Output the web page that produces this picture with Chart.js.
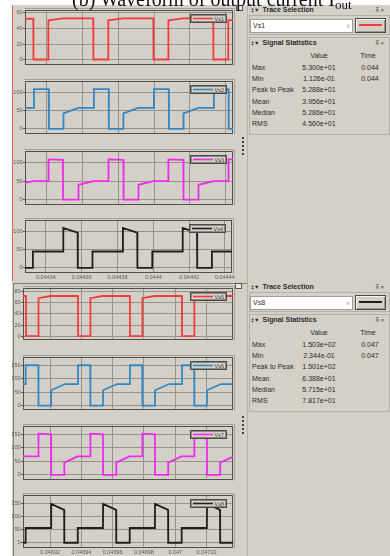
<!DOCTYPE html>
<html>
<head>
<meta charset="utf-8">
<script src="https://cdn.jsdelivr.net/npm/chart.js@4.4.1/dist/chart.umd.min.js"></script>
<style>
  html, body { margin: 0; padding: 0; background: #fff; }
  body { width: 390px; height: 556px; position: relative; overflow: hidden;
         font-family: "Liberation Sans", Arial, sans-serif; color: #2b2b2b; }
  .abs { position: absolute; }
  #bg { left: 12px; top: 5px; width: 378px; height: 551px; background: #d4d0c8; }
  #redEdge { left: 12px; top: 5px; width: 1px; height: 276px; background: #e0605c; }
  #paneBot { left: 13px; top: 283px; width: 234px; height: 273px;
             border-top: 1px solid #7f7d78; border-left: 1px solid #7f7d78; }
  #split { left: 247px; top: 5px; width: 1px; height: 551px; background: #b4b1aa; }
  .mini { width: 5px; height: 4px; border: 1px solid #5a5a5a; background: #ebe9e4; }
  .dot { width: 1.5px; height: 1.5px; background: #444; left: 242px; }
  canvas { position: absolute; left: 12px; }
  #caption { left: 72px; top: -11px; font: 20px/20px "Liberation Serif", "Times New Roman", serif;
             color: #111; white-space: nowrap; z-index: 5; }
  #caption span { font-size: 13px; position: relative; top: 3px; }
  .hdr { position: absolute; left: 251px; width: 136px; height: 10px; line-height: 10px;
         font-weight: bold; font-size: 7px; }
  .hdr .ic { font-size: 5.5px; margin-right: 3px; }
  .hdr .pin { position: absolute; right: 3px; top: 0; font-size: 6px; font-weight: normal; color: #444; }
  .box { left: 249px; width: 139px; border: 1px solid #b3b0a9; }
  .combo { left: 250px; width: 99px; height: 12px; background: #fff; border: 1px solid #a19e98;
           font-size: 7px; line-height: 12px; padding-left: 2px; }
  .combo .arr { position: absolute; right: 2px; top: 0; color: #999; font-size: 6px; }
  .btn { left: 355px; width: 29px; height: 13px; border: 1px solid #4a4a4a;
         box-shadow: inset 1px 1px #f4f3f0, inset -1px -1px #9a978f; }
  .swatch { left: 359px; width: 23px; height: 1.6px; }
  .cell { position: absolute; height: 10px; line-height: 10px; font-size: 7px; white-space: nowrap; }
  .c { text-align: center; }
</style>
</head>
<body>
<div id="bg" class="abs"></div>
<div id="redEdge" class="abs"></div>
<div id="paneBot" class="abs"></div>
<div id="split" class="abs"></div>
<div class="abs mini" style="left:236px;top:5px"></div>
<div class="abs mini" style="left:235px;top:283px"></div>
<div id="caption" class="abs">(b) Waveform of output current I<span>out</span></div>
<div id="side"></div>

<script>
"use strict";

// time axis is kept in microseconds: 44340 = 0.04434 s

// tick labels
var topTickValues = [44340, 44360, 44380, 44400, 44420, 44440];
var topTickLabels = ['0.04434', '0.04436', '0.04438', '0.0444', '0.04442', '0.04444'];
var botTickValues = [46920, 46940, 46960, 46980, 47000, 47020];
var botTickLabels = ['0.04692', '0.04694', '0.04696', '0.04698', '0.047', '0.04702'];
var yTicks60  = [0, 20, 40, 60];
var yTicks80  = [0, 20, 40, 60, 80];
var yTicks100 = [0, 50, 100];
var yTicks150 = [0, 50, 100, 150];

// switch voltages, first screen
var vs1Time  = [44328.3, 44332.9, 44333.0, 44341.2, 44341.3, 44349.5, 44366.2, 44366.3, 44374.5, 44374.6, 44382.8,
                44399.6, 44399.7, 44407.9, 44408.0, 44416.2, 44432.9, 44433.0, 44441.2, 44441.3, 44443.9];
var vs1Value = [52.5, 52.5, 0.1, 0.1, 50.5, 53, 53, 0.1, 0.1, 50.5, 53,
                53, 0.1, 0.1, 50.5, 53, 53, 0.1, 0.1, 50.5, 51];

var vs2Time  = [44328.3, 44333.2, 44333.3, 44341.5, 44341.6, 44349.6, 44349.7, 44357.9, 44366.5, 44366.6, 44374.8,
                44374.9, 44382.9, 44383.0, 44391.2, 44399.9, 44400.0, 44408.2, 44408.3, 44416.3, 44416.4, 44424.6,
                44433.2, 44433.3, 44441.4, 44441.5, 44443.9];
var vs2Value = [58, 58, 110, 110, 0, 0, 43, 58, 58, 110, 110,
                0, 0, 43, 58, 58, 110, 110, 0, 0, 43, 58,
                58, 110, 110, 0, 0];

var vs3Time  = [44328.3, 44332.9, 44341.3, 44341.4, 44349.3, 44349.4, 44357.9, 44358.0, 44366.3, 44374.6, 44374.7,
                44383.0, 44383.1, 44391.3, 44391.4, 44399.6, 44407.9, 44408.0, 44416.3, 44416.4, 44424.6, 44424.7,
                44433.0, 44441.3, 44441.4, 44443.9];
var vs3Value = [45, 50, 50, 109, 108, 0, 0, 40, 50, 50, 109,
                108, 0, 0, 40, 50, 50, 109, 108, 0, 0, 40,
                50, 50, 109, 109];

var vs4Time  = [44328.3, 44332.6, 44332.7, 44349.6, 44349.7, 44357.7, 44357.8, 44365.9, 44366.0, 44382.9, 44383.0,
                44391.0, 44391.1, 44399.3, 44399.4, 44416.3, 44416.4, 44424.4, 44424.5, 44432.6, 44432.7, 44443.9];
var vs4Value = [0, 0, 45, 45, 110, 97, 0, 0, 45, 45, 110,
                97, 0, 0, 45, 45, 110, 97, 0, 0, 45, 45];

// switch voltages, second screen
var vs5Time  = [46902.7, 46904.6, 46904.7, 46912.5, 46912.6, 46920.3, 46937.8, 46937.9, 46945.7, 46945.8, 46953.5,
                46971.0, 46971.1, 46978.9, 46979.0, 46986.7, 47004.2, 47004.3, 47012.1, 47012.2, 47019.9, 47036.9];
var vs5Value = [72, 72, 0.2, 0.2, 68, 72, 72, 0.2, 0.2, 68, 72,
                72, 0.2, 0.2, 68, 72, 72, 0.2, 0.2, 68, 72, 72];

var vs6Time  = [46902.7, 46904.3, 46904.4, 46912.5, 46912.6, 46920.6, 46920.7, 46929.6, 46937.8, 46937.9, 46945.7,
                46945.8, 46953.8, 46953.9, 46962.8, 46971.0, 46971.1, 46978.9, 46979.0, 46987.0, 46987.1, 46996.0,
                47004.2, 47004.3, 47012.1, 47012.2, 47020.2, 47020.3, 47029.2, 47036.9];
var vs6Value = [80, 80, 150, 150, 0, 0, 57, 80, 80, 150, 150,
                0, 0, 57, 80, 80, 150, 150, 0, 0, 57, 80,
                80, 150, 150, 0, 0, 57, 80, 80];

var vs7Time  = [46902.7, 46912.5, 46912.6, 46920.6, 46920.7, 46929.0, 46929.1, 46937.5, 46945.7, 46945.8, 46953.8,
                46953.9, 46962.2, 46962.3, 46970.7, 46978.9, 46979.0, 46987.0, 46987.1, 46995.4, 46995.5, 47003.9,
                47012.1, 47012.2, 47020.2, 47020.3, 47028.6, 47028.7, 47036.9];
var vs7Value = [68, 68, 152, 150, 0, 0, 45, 68, 68, 152, 150,
                0, 0, 45, 68, 68, 152, 150, 0, 0, 45, 68,
                68, 152, 150, 0, 0, 45, 67];

var vs8Time  = [46902.7, 46904.3, 46904.4, 46920.6, 46920.7, 46929.0, 46929.1, 46937.6, 46937.7, 46953.8, 46953.9,
                46962.2, 46962.3, 46970.8, 46970.9, 46987.0, 46987.1, 46995.4, 46995.5, 47004.0, 47004.1, 47020.2,
                47020.3, 47028.6, 47028.7, 47036.9];
var vs8Value = [0, 0, 57, 57, 150, 127, 0, 0, 57, 57, 150,
                127, 0, 0, 57, 57, 150, 127, 0, 0, 57, 57,
                150, 127, 0, 0];

// signal statistics panels
var statNames   = ['Max', 'Min', 'Peak to Peak', 'Mean', 'Median', 'RMS'];
var statsVs1    = ['5.300e+01', '1.126e-01', '5.288e+01', '3.956e+01', '5.286e+01', '4.560e+01'];
var statTimeVs1 = ['0.044', '0.044', '', '', '', ''];
var statsVs8    = ['1.503e+02', '2.344e-01', '1.501e+02', '6.388e+01', '5.715e+01', '7.817e+01'];
var statTimeVs8 = ['0.047', '0.047', '', '', '', ''];


var gridColor = '#96938d';
var tickColor = '#5a5a5a';
var tickFont  = { size: 5.5, family: '"Liberation Sans", Arial, sans-serif' };

// one entry per scope window (frame = plot area in page pixels)
var plots = [
  { name: 'Vs1', t: vs1Time, v: vs1Value, color: '#f23c3c', top: 9,   bottom: 68,  left: 25,
    x: [44328.3, 44443.9], y: [-7.2, 64.0],   yTicks: yTicks60,  xTicks: topTickValues, xLabels: null },
  { name: 'Vs2', t: vs2Time, v: vs2Value, color: '#2f88c8', top: 80,  bottom: 137, left: 25,
    x: [44328.3, 44443.9], y: [-14.8, 132.9], yTicks: yTicks100, xTicks: topTickValues, xLabels: null },
  { name: 'Vs3', t: vs3Time, v: vs3Value, color: '#ee2aee', top: 150, bottom: 208, left: 25,
    x: [44328.3, 44443.9], y: [-15.3, 132.3], yTicks: yTicks100, xTicks: topTickValues, xLabels: null },
  { name: 'Vs4', t: vs4Time, v: vs4Value, color: '#1e1e1e', top: 219, bottom: 273, left: 25,
    x: [44328.3, 44443.9], y: [-14.4, 132.7], yTicks: yTicks100, xTicks: topTickValues, xLabels: topTickLabels },
  { name: 'Vs5', t: vs5Time, v: vs5Value, color: '#f23c3c', top: 287, bottom: 343, left: 23,
    x: [46902.7, 47036.9], y: [-7.2, 86.7],   yTicks: yTicks80,  xTicks: botTickValues, xLabels: null },
  { name: 'Vs6', t: vs6Time, v: vs6Value, color: '#2f88c8', top: 356, bottom: 413, left: 23,
    x: [46902.7, 47036.9], y: [-17.4, 181.4], yTicks: yTicks150, xTicks: botTickValues, xLabels: null },
  { name: 'Vs7', t: vs7Time, v: vs7Value, color: '#ee2aee', top: 425, bottom: 483, left: 23,
    x: [46902.7, 47036.9], y: [-19.7, 181.2], yTicks: yTicks150, xTicks: botTickValues, xLabels: null },
  { name: 'Vs8', t: vs8Time, v: vs8Value, color: '#1e1e1e', top: 494, bottom: 548, left: 23,
    x: [46902.7, 47036.9], y: [-20.2, 185.4], yTicks: yTicks150, xTicks: botTickValues, xLabels: botTickLabels }
];


// frame, and the little legend box in the upper right corner
var scopeFrame = {
  id: 'scopeFrame',
  beforeDatasetsDraw: function(chart) {
    var a = chart.chartArea, ctx = chart.ctx;
    var l = Math.round(a.left), t = Math.round(a.top), r = Math.round(a.right), b = Math.round(a.bottom);
    ctx.save();
    ctx.lineWidth = 1;
    ctx.strokeStyle = '#a3a09a';
    ctx.beginPath();
    ctx.moveTo(l - 0.5, t - 1.5); ctx.lineTo(r + 1.5, t - 1.5); ctx.lineTo(r + 1.5, b + 0.5);
    ctx.stroke();
    ctx.strokeStyle = '#505050';
    ctx.strokeRect(l + 0.5, t + 0.5, r - l - 1, b - t - 1);
    ctx.restore();
  },
  afterDatasetsDraw: function(chart) {
    var a = chart.chartArea, ctx = chart.ctx, ds = chart.data.datasets[0];
    var x = Math.round(a.right) - 43, y = Math.round(a.top) + 4, w = 37, h = 9;
    ctx.save();
    ctx.fillStyle = '#d4d0c8';
    ctx.fillRect(x, y, w, h);
    ctx.lineWidth = 1;
    ctx.strokeStyle = '#4a4a4a';
    ctx.strokeRect(x + 0.5, y + 0.5, w - 1, h - 1);
    ctx.strokeStyle = '#8d8a84';
    ctx.strokeRect(x + 1.5, y + 1.5, w - 3, h - 3);
    ctx.strokeStyle = ds.borderColor;
    ctx.lineWidth = 1.6;
    ctx.beginPath();
    ctx.moveTo(x + 3, y + h / 2); ctx.lineTo(x + 23, y + h / 2);
    ctx.stroke();
    ctx.fillStyle = '#444';
    ctx.font = '5.5px "Liberation Sans", Arial, sans-serif';
    ctx.textAlign = 'right';
    ctx.textBaseline = 'middle';
    ctx.fillText(ds.label, x + w - 3, y + h / 2 + 0.5);
    ctx.restore();
  }
};


function makePlot(p) {
  var labelH = p.xLabels ? 9 : 0;
  var cv = document.createElement('canvas');
  cv.width = 224;
  cv.height = (p.bottom - p.top) + 3 + (labelH || 1);
  cv.style.top = (p.top - 3) + 'px';
  document.body.appendChild(cv);

  var pts = p.t.map(function(t, i) { return { x: t, y: p.v[i] }; });

  return new Chart(cv.getContext('2d'), {
    type: 'line',
    data: { datasets: [{ label: p.name, data: pts, borderColor: p.color, borderWidth: 1.8,
                         pointRadius: 0, tension: 0, fill: false }] },
    options: {
      responsive: false, animation: false, events: [], devicePixelRatio: 1,
      layout: { padding: { top: 3, right: 3, bottom: labelH ? 0 : 1, left: 0 } },
      plugins: { legend: { display: false }, tooltip: { enabled: false } },
      scales: {
        x: {
          type: 'linear', min: p.x[0], max: p.x[1],
          border: { display: false },
          grid: { color: gridColor, drawTicks: false },
          ticks: { display: !!p.xLabels, autoSkip: false, maxRotation: 0, padding: 1,
                   color: tickColor, font: tickFont,
                   callback: function(v, i) { return p.xLabels ? p.xLabels[i] : ''; } },
          afterBuildTicks: function(s) { s.ticks = p.xTicks.map(function(v) { return { value: v }; }); },
          afterFit: function(s) { s.height = labelH; }
        },
        y: {
          min: p.y[0], max: p.y[1],
          border: { display: false },
          grid: { color: gridColor, drawTicks: true, tickLength: 2, tickColor: '#555' },
          ticks: { padding: 0.5, color: tickColor, font: tickFont,
                   callback: function(v) { return String(v); } },
          afterBuildTicks: function(s) { s.ticks = p.yTicks.map(function(v) { return { value: v }; }); },
          afterFit: function(s) { s.width = p.left - 12; }
        }
      }
    },
    plugins: [scopeFrame]
  });
}

plots.forEach(makePlot);


// right hand side: trace selection + signal statistics
function sidePanel(dy, name, color, values, times) {
  var h = '';
  h += '<div class="hdr" style="top:' + (5 + dy) + 'px"><span class="ic">&#8225;&#9660;</span>Trace Selection' +
       '<span class="pin">&#8892; &#215;</span></div>';
  h += '<div class="abs box" style="top:' + (15 + dy) + 'px;height:18px"></div>';
  h += '<div class="abs combo" style="top:' + (19 + dy) + 'px">' + name + '<span class="arr">&#8744;</span></div>';
  h += '<div class="abs btn" style="top:' + (18 + dy) + 'px"></div>';
  h += '<div class="abs swatch" style="top:' + (24 + dy) + 'px;background:' + color + '"></div>';

  h += '<div class="abs box" style="top:' + (37 + dy) + 'px;height:96px"></div>';
  h += '<div class="hdr" style="top:' + (38 + dy) + 'px"><span class="ic">&#8225;&#9660;</span>Signal Statistics' +
       '<span class="pin">&#8892; &#215;</span></div>';
  h += '<div class="cell c" style="left:299px;width:40px;top:' + (51 + dy) + 'px">Value</div>';
  h += '<div class="cell c" style="left:350px;width:36px;top:' + (51 + dy) + 'px">Time</div>';
  for (var i = 0; i < statNames.length; i++) {
    var y = Math.round(63 + i * 11.2) + dy;
    h += '<div class="cell" style="left:252px;top:' + y + 'px">' + statNames[i] + '</div>';
    h += '<div class="cell c" style="left:294px;width:50px;top:' + y + 'px">' + values[i] + '</div>';
    h += '<div class="cell c" style="left:352px;width:36px;top:' + y + 'px">' + times[i] + '</div>';
  }
  return h;
}

var side = sidePanel(0, 'Vs1', '#f23c3c', statsVs1, statTimeVs1) +
           sidePanel(277, 'Vs8', '#1e1e1e', statsVs8, statTimeVs8);

// splitter grips
[137, 416].forEach(function(y0) {
  for (var k = 0; k < 5; k++) {
    side += '<div class="abs dot" style="top:' + (y0 + k * 4) + 'px"></div>';
  }
});
document.getElementById('side').innerHTML = side;
</script>
</body>
</html>
